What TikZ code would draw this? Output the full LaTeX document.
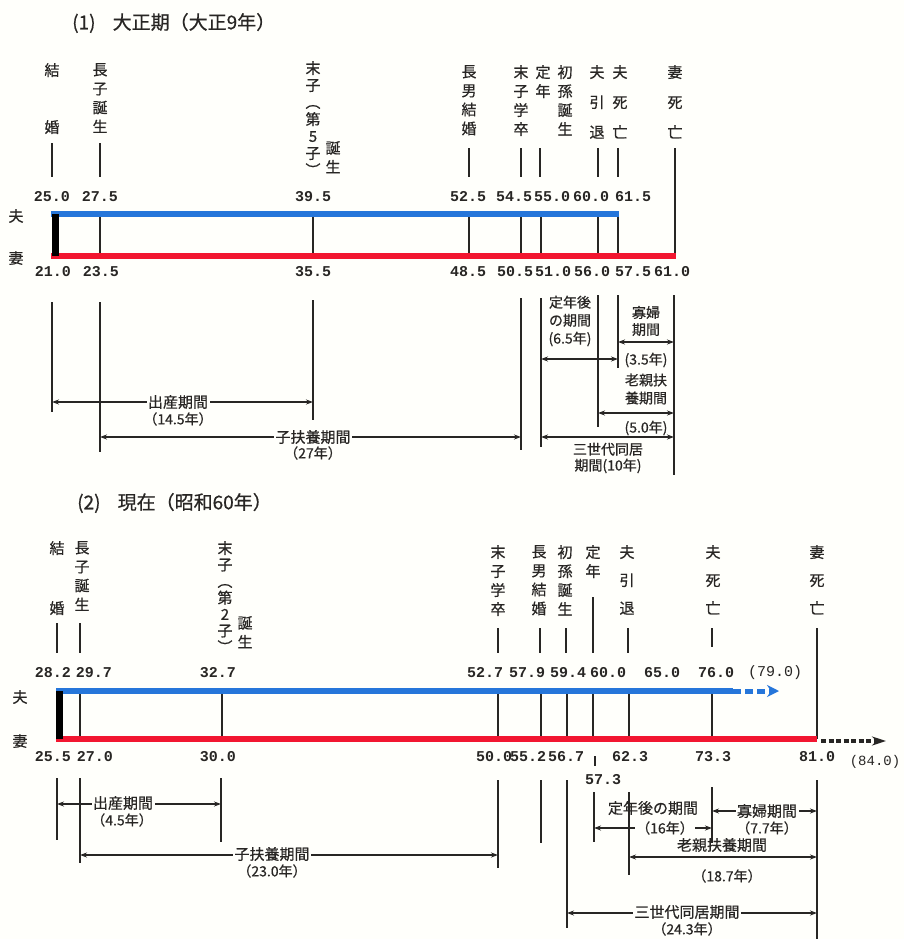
\documentclass[tikz,border=0pt]{standalone}
\usepackage{fontspec}
\setmainfont{Noto Sans CJK JP}[FakeBold=0.6]
\setmonofont{Liberation Mono}
\usepackage{tikz}
\usetikzlibrary{arrows.meta, positioning}

\definecolor{husb}{RGB}{38,118,218}
\definecolor{wife}{RGB}{242,22,48}
\definecolor{ink}{RGB}{40,38,36}
\definecolor{bg}{RGB}{255,255,251}

\begin{document}
\begin{tikzpicture}[
    x=1pt, y=-1pt,
    every node/.style={text=ink},
    ttl/.style={anchor=west, inner sep=0pt, font=\fontsize{19}{22}\selectfont},
    sidelab/.style={inner sep=0pt, font=\fontsize{15}{18}\selectfont},
    vlab/.style={anchor=north, align=center, inner sep=0pt, font=\fontsize{15}{19}\selectfont},
    agenum/.style={inner sep=0pt, font=\ttfamily\bfseries\fontsize{15}{16}\selectfont},
    period/.style={align=center, inner sep=1.5pt, fill=bg, font=\fontsize{15}{18}\selectfont},
    years/.style={inner sep=0pt, font=\fontsize{14}{16}\selectfont},
    evtick/.style={draw=ink, line width=1.6pt},
    dimln/.style={draw=ink, line width=1.3pt, {Stealth[length=7pt,width=5pt]}-{Stealth[length=7pt,width=5pt]}},
    husband/.style={draw=husb, line width=6pt},
    wifeln/.style={draw=wife, line width=6pt}
]
    \fill[bg] (0,0) rectangle (904,939);
    \useasboundingbox (0,0) rectangle (904,939);

    %% (1) Taisho
    \node (ttlA) [ttl] at (72,23) {(1)\hspace{0.9em}大正期（大正9年）};
    \node (husA) [sidelab] at (16,216) {夫};
    \node (wifA) [sidelab] at (16,258) {妻};

    \node (a-mar)  [vlab] at (52,63)  {結\\[38pt]婚};
    \node (a-fst)  [vlab] at (100,63) {長\\子\\誕\\生};
    \node (a-lst)  [vlab, font=\fontsize{15}{17}\selectfont] at (313,61) {末\\子\\︵\\第\\5\\子\\︶};
    \node (a-lstb) [vlab] at (333,141) {誕\\生};
    \node (a-son)  [vlab] at (469,65) {長\\男\\結\\婚};
    \node (a-grad) [vlab] at (521,65) {末\\子\\学\\卒};
    \node (a-ret)  [vlab] at (543,65) {定\\年};
    \node (a-gch)  [vlab] at (565,65) {初\\孫\\誕\\生};
    \node (a-hret) [vlab] at (597,65) {夫\\[11pt]引\\[11pt]退};
    \node (a-hdie) [vlab] at (620,65) {夫\\[11pt]死\\[11pt]亡};
    \node (a-wdie) [vlab] at (675,65) {妻\\[11pt]死\\[11pt]亡};

    \draw[evtick] (52,143) -- (52,177);
    \draw[evtick] (100,143) -- (100,177);
    \draw[evtick] (469,148) -- (469,177);
    \draw[evtick] (521,148) -- (521,177);
    \draw[evtick] (540,148) -- (540,177);
    \draw[evtick] (598,148) -- (598,177);
    \draw[evtick] (618,148) -- (618,177);
    \draw[evtick] (675,148) -- (675,256);

    \node (a-h250) [agenum] at (52,197)  {25.0};
    \node (a-h275) [agenum] at (100,197) {27.5};
    \node (a-h395) [agenum] at (313,197) {39.5};
    \node (a-h525) [agenum] at (468,197) {52.5};
    \node (a-h545) [agenum] at (514,197) {54.5};
    \node (a-h550) [agenum] at (552,197) {55.0};
    \node (a-h600) [agenum] at (591,197) {60.0};
    \node (a-h615) [agenum] at (633,197) {61.5};

    \draw[evtick] (100,214) -- (100,256);
    \draw[evtick] (313,214) -- (313,256);
    \draw[evtick] (469,214) -- (469,256);
    \draw[evtick] (521,214) -- (521,256);
    \draw[evtick] (541,214) -- (541,256);
    \draw[evtick] (598,214) -- (598,256);
    \draw[evtick] (618,214) -- (618,256);
    \draw[husband] (51,214) -- (619,214);
    \draw[wifeln] (51,256) -- (676,256);
    \fill[black] (52,214) rectangle (59,256);

    \node (a-w210) [agenum] at (53,272)  {21.0};
    \node (a-w235) [agenum] at (101,272) {23.5};
    \node (a-w355) [agenum] at (313,272) {35.5};
    \node (a-w485) [agenum] at (468,272) {48.5};
    \node (a-w505) [agenum] at (515,272) {50.5};
    \node (a-w510) [agenum] at (553,272) {51.0};
    \node (a-w560) [agenum] at (592,272) {56.0};
    \node (a-w575) [agenum] at (633,272) {57.5};
    \node (a-w610) [agenum] at (672,272) {61.0};

    \draw[evtick] (52,302) -- (52,412);
    \draw[evtick] (100,302) -- (100,452);
    \draw[evtick] (313,300) -- (313,420);
    \draw[evtick] (521,298) -- (521,450);
    \draw[evtick] (541,298) -- (541,447);
    \draw[evtick] (598,295) -- (598,427);
    \draw[evtick] (618,295) -- (618,368);
    \draw[evtick] (674,295) -- (674,475);

    \draw[dimln] (52,402) -- (313,402);
    \node (a-birth)  [period] at (178,402) {出産期間};
    \node (a-birthy) [years] at (178,419) {（14.5年）};
    \draw[dimln] (100,437) -- (521,437);
    \node (a-rear)   [period] at (313,437) {子扶養期間};
    \node (a-reary)  [years] at (313,453) {（27年）};
    \node (a-post)   [period, fill=none, inner sep=0pt, font=\fontsize{14}{18}\selectfont] at (570,321) {定年後\\の期間\\(6.5年)};
    \draw[dimln] (541,359) -- (618,359);
    \node (a-widow)  [period, fill=none, inner sep=0pt, font=\fontsize{14}{17}\selectfont] at (646,321) {寡婦\\期間};
    \draw[dimln] (618,342) -- (674,342);
    \node (a-widowy) [years] at (646,360) {(3.5年)};
    \node (a-elder)  [period, fill=none, inner sep=0pt, font=\fontsize{14}{18}\selectfont] at (646,389) {老親扶\\養期間};
    \draw[dimln] (598,413) -- (674,413);
    \node (a-eldery) [years] at (646,428) {(5.0年)};
    \draw[dimln] (541,437) -- (674,437);
    \node (a-three)  [period, fill=none, inner sep=0pt, font=\fontsize{14}{16}\selectfont] at (608,458) {三世代同居\\期間(10年)};

    %% (2) Showa 60
    \node (ttlB) [ttl] at (77,503) {(2)\hspace{0.9em}現在（昭和60年）};
    \node (husB) [sidelab] at (20,697) {夫};
    \node (wifB) [sidelab] at (20,741) {妻};

    \node (b-mar)  [vlab] at (57,541) {結\\[41pt]婚};
    \node (b-fst)  [vlab] at (82,541) {長\\子\\誕\\生};
    \node (b-lst)  [vlab, font=\fontsize{15}{16.5}\selectfont] at (225,541) {末\\子\\︵\\第\\2\\子\\︶};
    \node (b-lstb) [vlab] at (245,616) {誕\\生};
    \node (b-grad) [vlab] at (498,545) {末\\子\\学\\卒};
    \node (b-son)  [vlab] at (539,545) {長\\男\\結\\婚};
    \node (b-gch)  [vlab] at (565,545) {初\\孫\\誕\\生};
    \node (b-ret)  [vlab] at (593,545) {定\\年};
    \node (b-hret) [vlab] at (627,545) {夫\\[9pt]引\\[9pt]退};
    \node (b-hdie) [vlab] at (713,545) {夫\\[9pt]死\\[9pt]亡};
    \node (b-wdie) [vlab] at (817,545) {妻\\[9pt]死\\[9pt]亡};

    \draw[evtick] (57,623) -- (57,653);
    \draw[evtick] (80,623) -- (80,653);
    \draw[evtick] (498,628) -- (498,653);
    \draw[evtick] (540,628) -- (540,653);
    \draw[evtick] (566,628) -- (566,653);
    \draw[evtick] (593,597) -- (593,653);
    \draw[evtick] (628,628) -- (628,653);
    \draw[evtick] (712,628) -- (712,647);
    \draw[evtick] (817,628) -- (817,739);

    \node (b-h282) [agenum] at (53,673)  {28.2};
    \node (b-h297) [agenum] at (94,673)  {29.7};
    \node (b-h327) [agenum] at (218,673) {32.7};
    \node (b-h527) [agenum] at (485,673) {52.7};
    \node (b-h579) [agenum] at (527,673) {57.9};
    \node (b-h594) [agenum] at (568,673) {59.4};
    \node (b-h600) [agenum] at (608,673) {60.0};
    \node (b-h650) [agenum] at (662,673) {65.0};
    \node (b-h760) [agenum] at (716,673) {76.0};
    \node (b-h790) [agenum, font=\ttfamily\fontsize{15}{16}\selectfont] at (775,673) {(79.0)};

    \draw[evtick] (80,691) -- (80,739);
    \draw[evtick] (222,691) -- (222,739);
    \draw[evtick] (498,691) -- (498,739);
    \draw[evtick] (541,691) -- (541,739);
    \draw[evtick] (567,691) -- (567,739);
    \draw[evtick] (593,691) -- (593,739);
    \draw[evtick] (629,691) -- (629,739);
    \draw[evtick] (712,691) -- (712,739);
    \draw[husband] (56,691) -- (733,691);
    \draw[husband, line width=5pt, dash pattern=on 8pt off 4pt, -{Stealth[length=12pt,width=12pt]}] (733,691) -- (779,691);
    \draw[wifeln] (56,739) -- (817,739);
    \draw[ink, line width=4pt, dash pattern=on 5pt off 2.5pt, -{Stealth[length=14pt,width=9pt]}] (821,741) -- (886,741);
    \fill[black] (56,691) rectangle (63,739);

    \node (b-w255) [agenum] at (53,757)  {25.5};
    \node (b-w270) [agenum] at (95,757)  {27.0};
    \node (b-w300) [agenum] at (218,757) {30.0};
    \node (b-w500) [agenum] at (494,757) {50.0};
    \node (b-w552) [agenum] at (528,757) {55.2};
    \node (b-w567) [agenum] at (566,757) {56.7};
    \draw[evtick, line width=1.2pt] (595,756) -- (595,766);
    \node (b-w573) [agenum] at (603,780) {57.3};
    \node (b-w623) [agenum] at (630,757) {62.3};
    \node (b-w733) [agenum] at (713,757) {73.3};
    \node (b-w810) [agenum] at (817,757) {81.0};
    \node (b-w840) [agenum, font=\ttfamily\fontsize{14}{16}\selectfont] at (875,762) {(84.0)};

    \draw[evtick] (57,778) -- (57,840);
    \draw[evtick] (80,778) -- (80,863);
    \draw[evtick] (221,778) -- (221,842);
    \draw[evtick] (498,780) -- (498,868);
    \draw[evtick] (541,780) -- (541,843);
    \draw[evtick] (567,780) -- (567,928);
    \draw[evtick] (594,792) -- (594,842);
    \draw[evtick] (629,792) -- (629,875);
    \draw[evtick] (712,787) -- (712,843);
    \draw[evtick] (817,780) -- (817,939);

    \draw[dimln] (57,804) -- (221,804);
    \node (b-birth)  [period] at (123,803) {出産期間};
    \node (b-birthy) [years] at (122,820) {（4.5年）};
    \draw[dimln] (80,855) -- (498,855);
    \node (b-rear)   [period] at (272,854) {子扶養期間};
    \node (b-reary)  [years] at (272,871) {（23.0年）};
    \node (b-post)   [period, fill=none] at (653,808) {定年後の期間};
    \draw[dimln] (594,828) -- (712,828);
    \node (b-posty)  [years, fill=bg, inner sep=1pt] at (665,828) {（16年）};
    \draw[dimln] (712,811) -- (817,811);
    \node (b-widow)  [period] at (767,811) {寡婦期間};
    \node (b-widowy) [years] at (767,828) {（7.7年）};
    \node (b-elder)  [period, fill=none] at (722,845) {老親扶養期間};
    \draw[dimln] (629,857) -- (817,857);
    \node (b-eldery) [years] at (727,876) {（18.7年）};
    \draw[dimln] (567,913) -- (817,913);
    \node (b-three)  [period] at (687,912) {三世代同居期間};
    \node (b-threey) [years] at (687,929) {（24.3年）};
\end{tikzpicture}
\end{document}
